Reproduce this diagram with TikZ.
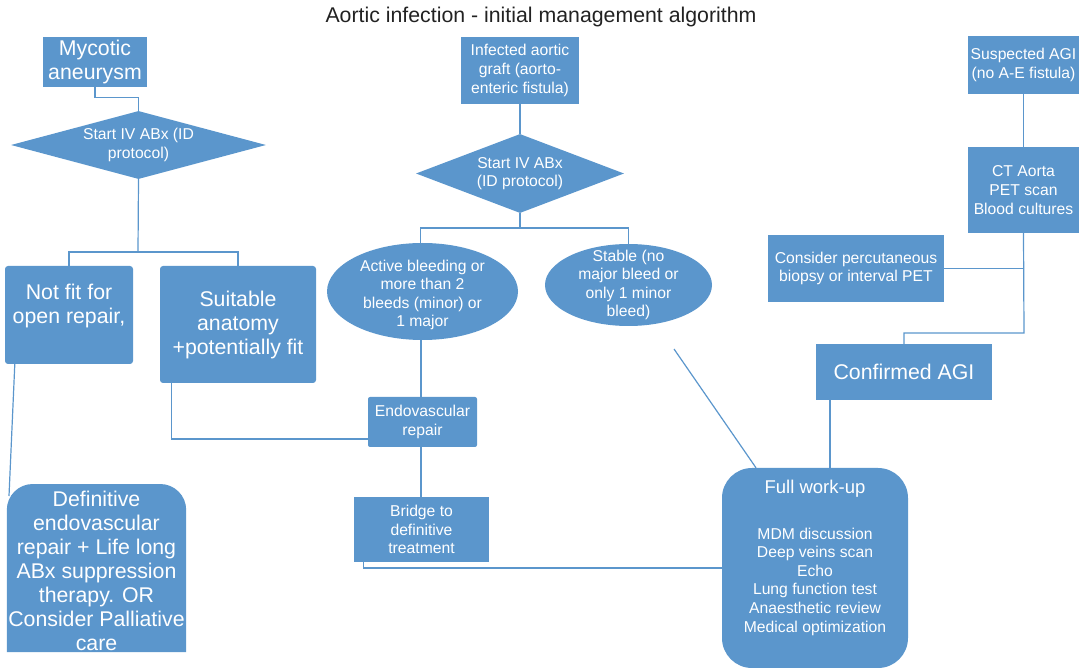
\documentclass[tikz,border=0pt]{standalone}
\usepackage{fontspec}
\setmainfont{Liberation Sans}
\usetikzlibrary{shapes.geometric,backgrounds}
\definecolor{bblue}{HTML}{5B96CC}
\definecolor{ttl}{HTML}{222222}
\newcommand\fsm{\fontsize{15.7}{18.6}\selectfont}
\newcommand\fbg{\fontsize{21.3}{24}\selectfont}
\newcommand\fmd{\fontsize{18.5}{22}\selectfont}
\tikzset{
 box/.style={rectangle, fill=bblue, text=white, align=center, inner sep=0pt, font=\fsm},
 dia/.style={diamond, fill=bblue, text=white, align=center, inner sep=0pt, font=\fsm},
 ell/.style={ellipse, fill=bblue, inner sep=0pt},
 wtext/.style={text=white, align=center, inner sep=0pt, font=\fsm},
 conn/.style={draw=bblue, line width=1.2pt},
}
\begin{document}
\begin{tikzpicture}[x=1pt,y=-1pt]
\useasboundingbox (0,0) rectangle (1080,668);
\node[font=\fontsize{21.3}{24}\selectfont, text=ttl, inner sep=0pt] (title) at (541,17) {Aortic infection - initial management algorithm};

% left column
\node[box, font=\fbg, minimum width=104pt, minimum height=50pt] (myc) at (95,62) {Mycotic\\aneurysm};
\node[dia, aspect=3.75, minimum width=255pt, minimum height=68pt] (d1) at (138.5,145) {Start IV ABx (ID\\protocol)};
\node[box, rounded corners=3pt, minimum width=128pt, minimum height=98pt] (notfit) at (69,315) {};
\node[wtext, font=\fbg] (notfitt) at (69,306) {Not fit for\\open repair,};
\node[box, font=\fbg, rounded corners=3pt, minimum width=156pt, minimum height=117pt] (suit) at (238,324.5) {Suitable\\anatomy\\+potentially fit};
\node[wtext, font=\fbg, minimum width=179pt, minimum height=168pt] (defin) at (96.5,571) {Definitive\\endovascular\\repair + Life long\\ABx suppression\\therapy. OR\\Consider Palliative\\care};
\begin{pgfonlayer}{background}
\fill[bblue] ([yshift=3pt]defin.south west) [rounded corners=26pt] -- (defin.north west |- 0,484) -- (defin.north east |- 0,484) [sharp corners] -- ([yshift=3pt]defin.south east) -- cycle;
\end{pgfonlayer}

% middle column
\node[box, minimum width=118pt, minimum height=67pt] (inf) at (520,70.5) {Infected aortic\\graft (aorto-\\enteric fistula)};
\node[dia, aspect=2.63, minimum width=208pt, minimum height=79pt] (d2) at (520,173.5) {Start IV ABx\\(ID protocol)};
\node[ell, minimum width=191pt, minimum height=97pt, label={[wtext, yshift=-3.5pt]center:{Active bleeding or\\more than 2\\bleeds (minor) or\\1 major}}] (e1) at (422.5,291.5) {};
\node[ell, minimum width=167pt, minimum height=82pt, label={[wtext]center:{Stable (no\\major bleed or\\only 1 minor\\bleed)}}] (e2) at (628.5,285) {};
\node[box, rounded corners=2pt, minimum width=109pt, minimum height=50pt] (endo) at (422.5,422) {Endovascular\\repair};
\node[box, minimum width=135pt, minimum height=65pt] (bridge) at (421.5,529.5) {Bridge to\\definitive\\treatment};

% right column
\node[box, minimum width=111pt, minimum height=58pt] (sus) at (1023.5,65) {Suspected AGI\\(no A-E fistula)};
\node[box, minimum width=111pt, minimum height=86pt] (ct) at (1023.5,190) {CT Aorta\\PET scan\\Blood cultures};
\node[box, minimum width=176pt, minimum height=67pt] (cons) at (856,268.5) {Consider percutaneous\\biopsy or interval PET};
\node[box, font=\fbg, minimum width=176pt, minimum height=56pt] (conf) at (904,372) {Confirmed AGI};
\node[box, rounded corners=30pt, minimum width=186pt, minimum height=200pt] (full) at (815,568) {};
\node[wtext, font=\fmd] (fullt) at (815,488.5) {Full work-up};
\node[wtext] (fulll) at (815,581.5) {MDM discussion\\Deep veins scan\\Echo\\Lung function test\\Anaesthetic review\\Medical optimization};

% connectors
\coordinate (j1) at (138,252);
\coordinate (j2) at (520,228);
\coordinate (j3) at (1024,333);
\coordinate (s2) at (674,349);
\draw[conn] (myc.south) -- ++(0,10) -| (d1.north);
\draw[conn] (d1.south) -- (j1);
\draw[conn] (notfit.north) |- (j1) -| (suit.north);
\draw[conn] ([xshift=10pt]notfit.south west) -- (9,496);
\draw[conn] ([xshift=12pt]suit.south west) |- ([yshift=-17pt]endo.west);
\draw[conn] (inf.south) -- (d2.north);
\draw[conn] (d2.south) -- (j2);
\draw[conn] ([xshift=-2pt]e1.north) |- (j2) -| (e2.north);
\draw[conn] ([xshift=-1.5pt]e1.south) -- ([xshift=-1.5pt]endo.north);
\draw[conn] ([xshift=-1.5pt]endo.south) -- ([xshift=-0.5pt]bridge.north);
\draw[conn] ([xshift=10pt]bridge.south west) |- (full.west);
\draw[conn] (s2) -- ([xshift=-59pt]full.north);
\draw[conn] (sus.south) -- (ct.north);
\draw[conn] (ct.south) -- (j3) -| (conf.north);
\draw[conn] (cons.east) -- (cons.east -| ct.south);
\draw[conn] ([xshift=-74pt]conf.south) -- ([xshift=-74pt]conf.south |- full.north);
\end{tikzpicture}
\end{document}
